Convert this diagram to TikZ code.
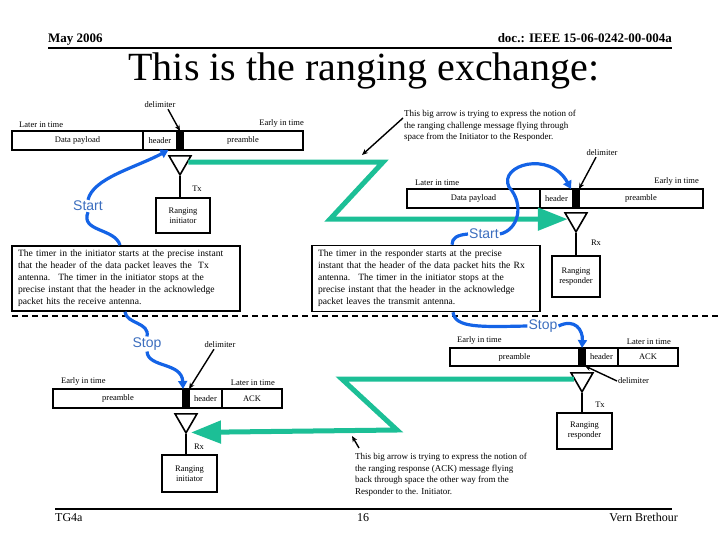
\documentclass[tikz,border=0pt]{standalone}
\usepackage{fontspec}
\setmainfont{Liberation Serif}
\setsansfont{Liberation Sans}
\usepackage{tikz}
\usetikzlibrary{arrows.meta,positioning,shapes.geometric,calc}
\definecolor{turquoise}{HTML}{1CBF96}
\definecolor{bleu}{HTML}{1463E6}
\definecolor{bleutexte}{HTML}{3C6EBE}
\tikzset{
  champ/.style={draw,line width=1.6pt,minimum height=19pt,inner sep=0pt,outer sep=0pt,
                font=\fontsize{8.5}{10}\selectfont},
  marque/.style={champ,fill=black,minimum width=6pt},
  etiq/.style={font=\fontsize{8.5}{10}\selectfont,inner sep=1pt},
  antenne/.style={draw,line width=1.6pt,regular polygon,regular polygon sides=3,
                  shape border rotate=180,minimum size=25.4pt,inner sep=0pt},
  poste/.style={draw,line width=1.6pt,align=center,font=\fontsize{8.5}{10}\selectfont,inner sep=2pt},
  texte/.style={draw,line width=1.6pt,align=left,font=\fontsize{9.6}{12}\selectfont,
                minimum width=228pt,text width=216pt,inner xsep=6pt},
  note/.style={align=left,font=\fontsize{9}{11.5}\selectfont,inner sep=0pt},
  chrono/.style={text=bleutexte,font=\sffamily\fontsize{14}{16}\selectfont,inner sep=1pt},
  lien/.style={bleu,line width=3.2pt},
  trajet/.style={lien,-{Triangle[length=8pt,width=9pt]}},
  onde/.style={turquoise,line width=5pt,-{Triangle[length=30pt,width=22pt]}},
  pointeur/.style={line width=1.4pt,-{Stealth[length=6pt,width=5pt]}},
  trait/.style={line width=1.6pt},
}

\begin{document}
\begin{tikzpicture}[x=1pt,y=-1pt]
  \useasboundingbox (0,0) rectangle (720,540);

  \node[anchor=base west,inner sep=0pt,font=\bfseries\fontsize{13}{15}\selectfont] (date) at (48,43) {May 2006};
  \node[anchor=base east,inner sep=0pt,font=\bfseries\fontsize{13}{15}\selectfont] (doc) at (672,43) {doc.: IEEE 15-06-0242-00-004a};
  \draw[line width=2pt] (48,48) -- (672,48);
  \node[anchor=base,inner sep=0pt,font=\fontsize{40}{44}\selectfont] (titre) at (364,81) {This is the ranging exchange:};

  % paquet de l'initiateur (Tx)
  \node[champ,minimum width=131pt] (tpay) at (77.5,140.5) {Data payload};
  \node[champ,minimum width=34pt,right=0pt of tpay] (thead) {header};
  \node[marque,right=0pt of thead] (tdel) {};
  \node[champ,minimum width=120pt,right=0pt of tdel] (tpre) {\raisebox{-3pt}{preamble}};
  \node[etiq,anchor=south west] (tlate) at ($(tpay.north west)+(6,-2)$) {Later in time};
  \node[etiq,anchor=south east] (tearly) at ($(tpre.north east)+(2,-2)$) {Early in time};
  \node[etiq] (tdl) at (160,105) {delimiter};
  \draw[pointeur] ($(tdl.south)+(8,0)$) -- (tdel.north);
  \node[antenne,below=5pt of tdel] (ta) {};
  \node[poste,minimum width=54pt,minimum height=35pt] (ti) at (183,215.5) {Ranging\\initiator};
  \draw[trait] (ta.south) -- (ta.south |- ti.north);
  \node[etiq] (ttx) at (197,189) {Tx};

  % paquet du répondeur (Rx)
  \node[champ,minimum width=133pt] (rpay) at (473.5,198.5) {Data payload};
  \node[champ,minimum width=33pt,right=0pt of rpay] (rhead) {header};
  \node[marque,right=0pt of rhead] (rdel) {};
  \node[champ,minimum width=124pt,right=0pt of rdel] (rpre) {\raisebox{-3pt}{preamble}};
  \node[etiq,anchor=south west] (rlate) at ($(rpay.north west)+(7,-2)$) {Later in time};
  \node[etiq,anchor=south east] (rearly) at ($(rpre.north east)+(-3,-2)$) {Early in time};
  \node[etiq] (rdl) at (602,153) {delimiter};
  \draw[pointeur] ($(rdl.south)+(-6,0)$) -- (rdel.north east);
  \node[antenne,below=4pt of rdel] (ra) {};
  \node[poste,minimum width=48pt,minimum height=41pt] (rr) at (576,276.5) {Ranging\\responder};
  \draw[trait] (ra.south) -- (ra.south |- rr.north);
  \node[etiq] (rrx) at (596,243) {Rx};

  \coordinate (z1) at (383,162);
  \coordinate (z2) at (330,220);
  \draw[onde] (ta.east) -- (ta.east -| z1) -- (ra.west -| z2) -- (ra.west);
  \node[note,anchor=north west] (nt) at (404,110) {This big arrow is trying to express the notion of\\the ranging challenge message flying through\\space from the Initiator to the Responder.};
  \coordinate (zc) at (362,155);
  \draw[pointeur] ($(nt.north west)+(-1,8)$) -- (zc);

  \node[texte,minimum height=65pt] (nl) at (126,278.5) {The timer in the initiator starts at the precise instant\\that the header of the data packet leaves the \ Tx\\antenna. \ The timer in the initiator stops at the\\precise instant that the header in the acknowledge\\packet hits the receive antenna.};
  \node[texte,minimum height=66pt] (nr) at (426,278.5) {The timer in the responder starts at the precise\\instant that the header of the data packet hits the Rx\\antenna. \ The timer in the initiator stops at the\\precise instant that the header in the acknowledge\\packet leaves the transmit antenna.};
  \draw[line width=1.8pt,dash pattern=on 6pt off 4pt] (12,316) -- (720,316);

  % paquet du répondeur (Tx ACK)
  \node[champ,minimum width=129pt,minimum height=18pt] (bpre) at (514.5,357) {preamble};
  \node[marque,minimum height=18pt,right=0pt of bpre] (bdel) {};
  \node[champ,minimum width=33pt,minimum height=18pt,right=0pt of bdel] (bhead) {header};
  \node[champ,minimum width=60pt,minimum height=18pt,right=0pt of bhead] (back) {ACK};
  \node[etiq,anchor=south west] (bearly) at ($(bpre.north west)+(6,-2)$) {Early in time};
  \node[etiq,anchor=south east] (blate) at ($(back.north east)+(-6,-2)$) {Later in time};
  \node[antenne,below=6pt of bdel] (ba) {};
  \node[poste,minimum width=55pt,minimum height=36pt] (br) at (584.5,431) {Ranging\\responder};
  \draw[trait] (ba.south) -- (ba.south |- br.north);
  \node[etiq] (btx) at (600,405) {Tx};
  \node[etiq,anchor=west] (bdl) at (617,381) {delimiter};
  \draw[pointeur] (bdl.west) -- (bdel.south east);

  % paquet de l'initiateur (Rx ACK)
  \node[champ,minimum width=130pt] (lpre) at (118,398.5) {preamble};
  \node[marque,right=0pt of lpre] (ldel) {};
  \node[champ,minimum width=33pt,right=0pt of ldel] (lhead) {header};
  \node[champ,minimum width=60pt,right=0pt of lhead] (lack) {ACK\hspace{24pt}};
  \node[etiq,anchor=south west] (learly) at ($(lpre.north west)+(7,-2)$) {Early in time};
  \node[etiq,anchor=south east] (llate) at ($(lack.north east)+(-6,-2)$) {Later in time};
  \node[etiq] (ldl) at (220,345) {delimiter};
  \draw[pointeur] ($(ldl.south)+(-6,0)$) -- (ldel.north east);
  \node[antenne,below=5pt of ldel] (la) {};
  \node[poste,minimum width=55pt,minimum height=37pt] (li) at (189.5,473.5) {Ranging\\initiator};
  \draw[trait] (la.south) -- (la.south |- li.north);
  \node[etiq] (lrx) at (199,447) {Rx};

  \coordinate (z3) at (342,378);
  \coordinate (z4) at (397,430);
  \draw[onde] (ba.west) -- (ba.west -| z3) -- (z4) -- ($(la.south)+(5,-2)$);
  \node[note,anchor=north west] (nb) at (355,453) {This big arrow is trying to express the notion of\\the ranging response (ACK) message flying\\back through space the other way from the\\Responder to the. Initiator.};
  \coordinate (zd) at (352,436);
  \draw[pointeur] ($(nb.north west)+(4,-5)$) -- (zd);

  \node[chrono] (s1) at (88,206) {Start};
  \node[chrono] (p1) at (147,344) {Stop};
  \node[chrono] (s2) at (484,234) {Start};
  \node[chrono] (p2) at (543,326) {Stop};
  \draw[trajet] (s1.north) .. controls (93,178) and (135,168) .. ($(thead.south)!.5!(thead.south east)$);
  \draw[lien] (s1.south) .. controls (80,232) and (115,228) .. ($(nl.north)+(-6,0)$);
  \draw[lien] ($(nl.south)+(-1,0)$) .. controls (126,324) and (150,322) .. (p1.north);
  \draw[trajet] (p1.south) .. controls (148,368) and (182,362) .. (ldel.north west);
  \draw[trajet] (s2.east) .. controls (518,230) and (525,205) .. (509,187) .. controls (498,165) and (550,150) .. ($(rdel.north west)+(-2,0)$);
  \draw[lien] (s2.west) .. controls (457,235) and (452,238) .. ($(nr.north)+(26,0)$);
  \draw[lien] ($(nr.south)+(27,0)$) .. controls (455,328) and (480,327) .. (p2.west);
  \draw[trajet] (p2.east) .. controls (575,318) and (583,330) .. (bdel.north);

  \draw[line width=2pt] (55,509) -- (672,509);
  \node[anchor=base west,inner sep=0pt,font=\fontsize{12}{14}\selectfont] (tg) at (55,521) {TG4a};
  \node[anchor=base,inner sep=0pt,font=\fontsize{12}{14}\selectfont] (page) at (363,521) {16};
  \node[anchor=base east,inner sep=0pt,font=\fontsize{12}{14}\selectfont] (auteur) at (678,521) {Vern Brethour};
\end{tikzpicture}
\end{document}
